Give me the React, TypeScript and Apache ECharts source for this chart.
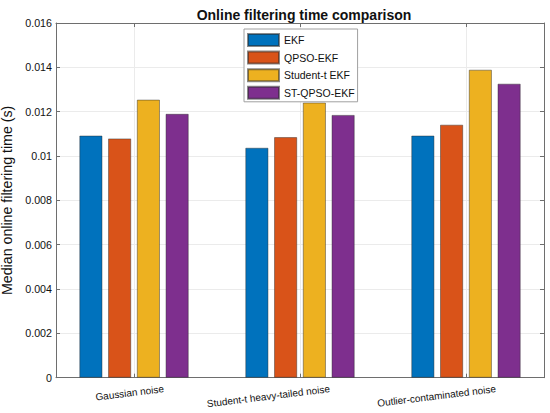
import React, { useEffect, useRef } from "react";
import * as echarts from "echarts";

const categories = ["Gaussian noise", "Student-t heavy-tailed noise", "Outlier-contaminated noise"];
const seriesNames = ["EKF", "QPSO-EKF", "Student-t EKF", "ST-QPSO-EKF"];
const ekf = [0.01092, 0.01037, 0.01092];
const qpsoEkf = [0.01079, 0.01085, 0.01141];
const studentTEkf = [0.01254, 0.01241, 0.01389];
const stQpsoEkf = [0.0119, 0.01185, 0.01326];
const colors = ["#0072BD", "#D95319", "#EDB120", "#7E2F8E"];

export default function App() {
  const ref = useRef<HTMLDivElement>(null);
  useEffect(() => {
    document.body.style.margin = "0";
    const chart = echarts.init(ref.current!, undefined, { renderer: "svg" });
    const values = [ekf, qpsoEkf, studentTEkf, stQpsoEkf];
    const pos = categories.map((_, i) => i + 1);
    const font = "'Liberation Sans', Arial, sans-serif";
    const frame = "#6e6e6e";
    const labelShift = 0.18;
    const plotH = 413 - 23 - 35.3;
    chart.setOption({
      animation: false,
      backgroundColor: "#ffffff",
      title: {
        text: "Online filtering time comparison",
        left: 299,
        textAlign: "center",
        top: 3,
        textStyle: { fontFamily: font, fontSize: 14, fontWeight: "bold", color: "#111" },
      },
      legend: {
        data: seriesNames,
        orient: "vertical",
        left: 244,
        top: 29,
        itemWidth: 31,
        itemHeight: 12,
        itemGap: 3.6,
        padding: [4, 3, 2, 3],
        backgroundColor: "#fff",
        borderColor: "#a0a0a0",
        borderWidth: 1,
        borderRadius: 0,
        icon: "rect",
        textStyle: { fontFamily: font, fontSize: 10.5, color: "#111", lineHeight: 12 },
      },
      grid: {
        left: 56,
        right: 6,
        top: 23,
        bottom: 35.3,
        show: false,
        containLabel: false,
        outerBoundsMode: "none",
      },
      xAxis: [
        {
          type: "value",
          min: 0.53,
          max: 3.47,
          axisLine: { show: true, onZero: false, lineStyle: { color: frame, width: 1 } },
          axisTick: { show: true, inside: true, length: 4, customValues: pos, lineStyle: { color: frame } },
          axisLabel: {
            customValues: pos.map((p) => p + labelShift),
            formatter: (v: number) => categories[Math.round(v - labelShift) - 1] ?? "",
            rotate: 7,
            margin: 11,
            fontFamily: font,
            fontSize: 10,
            color: "#111",
          },
          splitLine: { show: false },
        },
        {
          type: "value",
          position: "top",
          min: 0.53,
          max: 3.47,
          axisLine: { show: true, onZero: false, lineStyle: { color: frame, width: 1 } },
          axisTick: { show: true, inside: true, length: 4, customValues: pos, lineStyle: { color: frame } },
          axisLabel: { show: false },
          splitLine: { show: false },
        },
        {
          type: "value",
          position: "bottom",
          min: 0.53,
          max: 3.47,
          z: -1,
          axisLine: { show: false },
          axisTick: { show: true, inside: true, length: plotH, customValues: pos, lineStyle: { color: "#ebebeb", width: 1 } },
          axisLabel: { show: false },
          splitLine: { show: false },
        },
      ],
      yAxis: [
        {
          type: "value",
          min: 0,
          max: 0.016,
          interval: 0.002,
          name: "Median online filtering time (s)",
          nameLocation: "middle",
          nameGap: 41,
          nameTextStyle: { fontFamily: font, fontSize: 14.2, color: "#111" },
          axisLine: { show: true, lineStyle: { color: frame, width: 1 } },
          axisTick: { show: true, inside: true, length: 4, lineStyle: { color: frame } },
          axisLabel: {
            margin: 4,
            fontFamily: font,
            fontSize: 10.7,
            color: "#111",
            formatter: (v: number) => String(parseFloat(v.toFixed(3))),
          },
          splitLine: { show: true, lineStyle: { color: "#ebebeb", width: 1 } },
        },
        {
          type: "value",
          position: "right",
          min: 0,
          max: 0.016,
          interval: 0.002,
          axisLine: { show: true, lineStyle: { color: frame, width: 1 } },
          axisTick: { show: true, inside: true, length: 4, lineStyle: { color: frame } },
          axisLabel: { show: false },
          splitLine: { show: false },
        },
      ],
      series: seriesNames.map((name, s) => ({
        name,
        type: "bar",
        xAxisIndex: 0,
        yAxisIndex: 0,
        barWidth: 23,
        barGap: "25%",
        data: values[s].map((v, i) => [pos[i], v]),
        itemStyle: { color: colors[s], borderColor: "rgba(40,40,40,0.55)", borderWidth: 0.8 },
      })),
    });
    return () => chart.dispose();
  }, []);
  return <div ref={ref} style={{ width: 550, height: 413 }} />;
}
